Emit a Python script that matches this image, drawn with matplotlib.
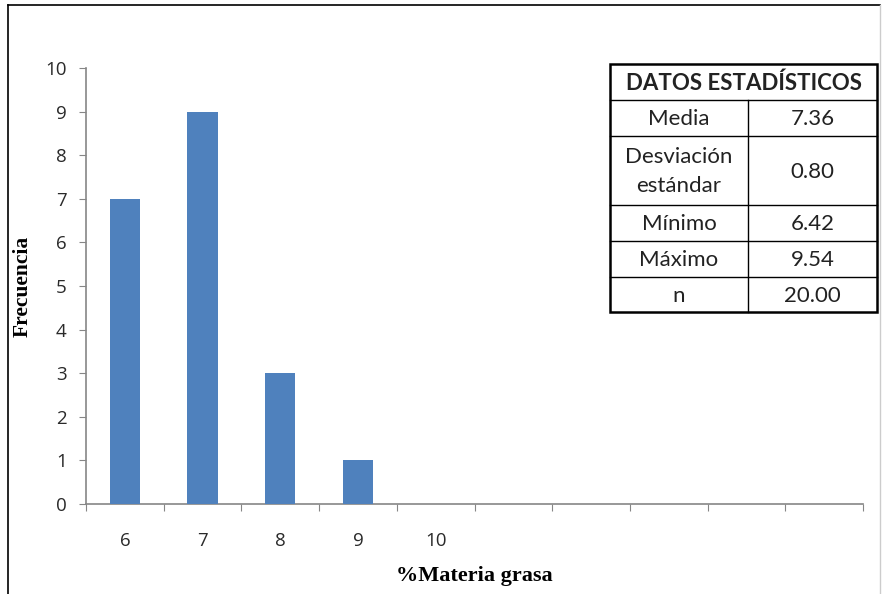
import matplotlib
matplotlib.use("Agg")
import matplotlib.pyplot as plt
from matplotlib.lines import Line2D

categories = ["6", "7", "8", "9", "10", "", "", "", "", ""]
frequencies = [7, 9, 3, 1, 0, 0, 0, 0, 0, 0]
yticks = list(range(0, 11))

table_title = "DATOS ESTADÍSTICOS"
stat_names = ["Media", "Desviación\nestándar", "Mínimo", "Máximo", "n"]
stat_values = ["7.36", "0.80", "6.42", "9.54", "20.00"]

W, H = 883, 594
fig = plt.figure(figsize=(W / 100, H / 100), dpi=100)
fig.patch.set_facecolor("white")

ax = fig.add_axes([86 / W, 1 - 504 / H, (863 - 86) / W, (504 - 68) / H])
x = list(range(len(categories)))
ax.bar(x, frequencies, width=0.39, color="#4F81BD", zorder=3)
ax.set_xlim(-0.5, len(categories) - 0.5)
ax.set_ylim(0, 10)
ax.set_yticks(yticks)
ax.set_yticklabels([str(v) for v in yticks], fontsize=13.5, color="#2a2a2a", family="Open Sans")
ax.set_xticks([i - 0.5 for i in range(len(categories) + 1)], minor=False)
ax.set_xticklabels([])
ax.set_xticks(x, minor=True)
ax.set_xticklabels(categories, minor=True, fontsize=13.5, color="#2a2a2a", family="Open Sans")
ax.tick_params(axis="x", which="minor", length=0, pad=20)
ax.tick_params(axis="x", which="major", length=5, color="#868686", direction="out")
ax.tick_params(axis="y", length=5, color="#868686", direction="out", pad=9)
for s in ["top", "right"]:
    ax.spines[s].set_visible(False)
for s in ["left", "bottom"]:
    ax.spines[s].set_color("#868686")
    ax.spines[s].set_linewidth(1.2)

ax.set_xlabel("%Materia grasa", family="Liberation Serif", fontweight="bold", fontsize=16, labelpad=12)
ax.set_ylabel("Frecuencia", family="Liberation Serif", fontweight="bold", fontsize=15.5, labelpad=9)

# figure border
fig.add_artist(Line2D([8 / W, 8 / W], [0, 1 - 5 / H], color="black", lw=1.2, transform=fig.transFigure))
fig.add_artist(Line2D([8 / W, 880 / W], [1 - 5 / H, 1 - 5 / H], color="black", lw=1.2, transform=fig.transFigure))
fig.add_artist(Line2D([880 / W, 880 / W], [0, 1 - 5 / H], color="#cccccc", lw=1.0, transform=fig.transFigure))

# statistics table
tl, tr, tt, tb = 610, 877, 64, 312
tsplit = 748
row_edges = [64, 100, 136, 205, 241, 277, 312]
tax = fig.add_axes([0, 0, 1, 1], facecolor="none")
tax.set_xlim(0, W)
tax.set_ylim(H, 0)
tax.axis("off")
tax.add_patch(plt.Rectangle((tl, tt), tr - tl, tb - tt, facecolor="white", edgecolor="none"))
for y in row_edges[1:-1]:
    tax.plot([tl, tr], [y, y], color="black", lw=1.0)
tax.plot([tsplit, tsplit], [row_edges[1], tb], color="black", lw=1.0)
tax.add_patch(plt.Rectangle((tl, tt), tr - tl, tb - tt, facecolor="none", edgecolor="black", lw=1.8))
tfont = dict(family="Lato", fontsize=16, color="#222222", ha="center", va="center")
tax.text((tl + tr) / 2, (row_edges[0] + row_edges[1]) / 2 + 1, table_title, fontweight="bold", **tfont)
for i, (name, val) in enumerate(zip(stat_names, stat_values)):
    yc = (row_edges[i + 1] + row_edges[i + 2]) / 2 + 1
    tax.text((tl + tsplit) / 2, yc, name, linespacing=1.55, **tfont)
    tax.text((tsplit + tr) / 2, yc, val, **tfont)

fig.savefig("out.png", dpi=100)
